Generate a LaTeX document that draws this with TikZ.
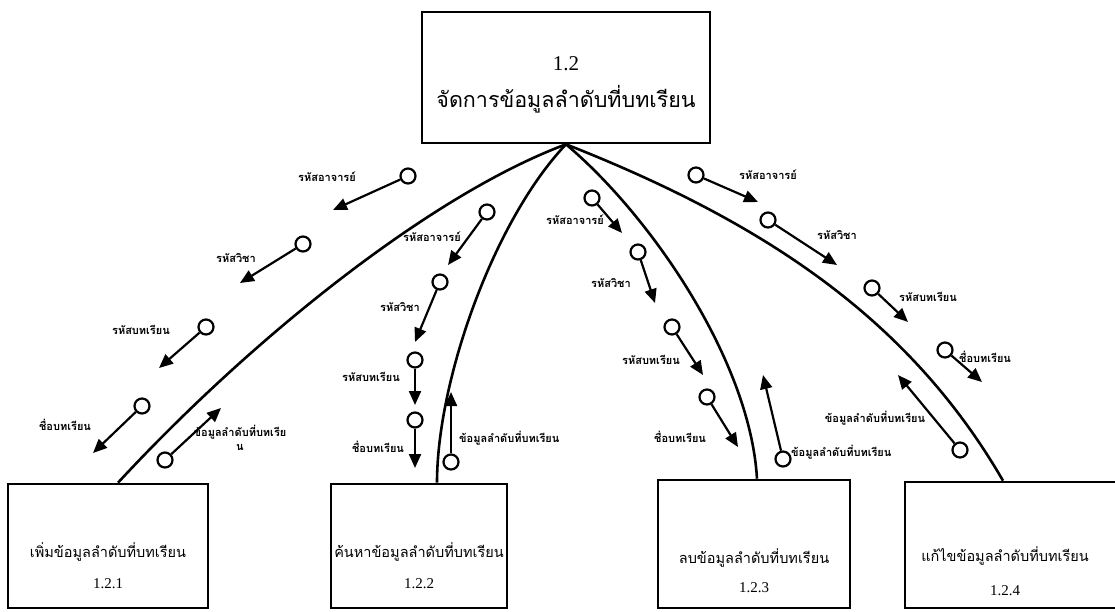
\documentclass[tikz,border=0pt]{standalone}
\usepackage{fontspec}
\setmainfont{Liberation Serif}
\newfontfamily\thai[Script=Thai]{Loma}
\usetikzlibrary{arrows.meta}

\begin{document}
\begin{tikzpicture}[x=1pt, y=-1pt,
    box/.style={draw, rectangle, line width=2.6pt, inner sep=0pt},
    branch/.style={line width=2.6pt},
    couple/.style={circle, draw, line width=2.2pt, minimum size=15pt, inner sep=0pt},
    flow/.style={line width=2.2pt, -{Triangle[length=14pt, width=12pt]}},
    lbl/.style={font=\thai\bfseries\fontsize{11}{12}\selectfont, inner sep=0pt},
    title/.style={font=\thai\fontsize{14.5}{18}\selectfont, inner sep=0pt},
    num/.style={font=\fontsize{15}{17}\selectfont, inner sep=0pt}]
    \useasboundingbox (0,0) rectangle (1115,611);

    % Parent module
    \node[box, minimum width=288pt, minimum height=131pt] (top) at (566,77.5) {};
    \node[num, font=\fontsize{21}{24}\selectfont] at (566,64) {1.2};
    \node[title, font=\thai\fontsize{21.5}{24}\selectfont] at (566,99) {จัดการข้อมูลลำดับที่บทเรียน};

    % Sub modules
    \node[box, minimum width=200pt, minimum height=124pt] (p121) at (108,546) {};
    \node[title] at (108,552) {เพิ่มข้อมูลลำดับที่บทเรียน};
    \node[num] at (108,584) {1.2.1};

    \node[box, minimum width=176pt, minimum height=124pt] (p122) at (419,546) {};
    \node[title] at (419,552) {ค้นหาข้อมูลลำดับที่บทเรียน};
    \node[num] at (419,584) {1.2.2};

    \node[box, minimum width=192pt, minimum height=128pt] (p123) at (754,544) {};
    \node[title] at (754,558) {ลบข้อมูลลำดับที่บทเรียน};
    \node[num] at (754,588) {1.2.3};

    \node[box, minimum width=220pt, minimum height=126pt] (p124) at (1015,545) {};
    \node[title] at (1005,556) {แก้ไขข้อมูลลำดับที่บทเรียน};
    \node[num] at (1005,591) {1.2.4};

    % Calls
    \draw[branch] (top.south) .. controls (430,195) and (250,340) .. ([xshift=10pt]p121.north);
    \draw[branch] (top.south) .. controls (494,220) and (437,380) .. ([xshift=18pt]p122.north);
    \draw[branch] (top.south) .. controls (650,215) and (750,360) .. ([xshift=3pt]p123.north);
    \draw[branch] (top.south) .. controls (766,223) and (910,320) .. ([xshift=-12pt]p124.north);

    % Data couples for 1.2.1
    \node[couple] (a1) at (408,176) {}; \coordinate (a1t) at (333,210);
    \draw[flow] (a1) -- (a1t); \node[lbl] at (327,177) {รหัสอาจารย์};
    \node[couple] (a2) at (303,244) {}; \coordinate (a2t) at (240,283);
    \draw[flow] (a2) -- (a2t); \node[lbl] at (236,258) {รหัสวิชา};
    \node[couple] (a3) at (206,327) {}; \coordinate (a3t) at (159,368);
    \draw[flow] (a3) -- (a3t); \node[lbl] at (141,330) {รหัสบทเรียน};
    \node[couple] (a4) at (142,406) {}; \coordinate (a4t) at (93,453);
    \draw[flow] (a4) -- (a4t); \node[lbl] at (65,425) {ชื่อบทเรียน};
    \node[couple] (a5) at (165,460) {}; \coordinate (a5t) at (221,408);
    \draw[flow] (a5) -- (a5t);
    \node[lbl, align=center] at (240,438) {ข้อมูลลำดับที่บทเรีย\\[2pt]น};

    % Data couples for 1.2.2
    \node[couple] (b1) at (487,212) {}; \coordinate (b1t) at (448,265);
    \draw[flow] (b1) -- (b1t); \node[lbl] at (432,237) {รหัสอาจารย์};
    \node[couple] (b2) at (440,282) {}; \coordinate (b2t) at (415,342);
    \draw[flow] (b2) -- (b2t); \node[lbl] at (400,307) {รหัสวิชา};
    \node[couple] (b3) at (415,360) {}; \coordinate (b3t) at (415,405);
    \draw[flow] (b3) -- (b3t); \node[lbl] at (371,377) {รหัสบทเรียน};
    \node[couple] (b4) at (415,420) {}; \coordinate (b4t) at (415,468);
    \draw[flow] (b4) -- (b4t); \node[lbl] at (378,447) {ชื่อบทเรียน};
    \node[couple] (b5) at (451,462) {}; \coordinate (b5t) at (451,392);
    \draw[flow] (b5) -- (b5t); \node[lbl, anchor=west] at (459,438) {ข้อมูลลำดับที่บทเรียน};

    % Data couples for 1.2.3
    \node[couple] (c1) at (592,198) {}; \coordinate (c1t) at (622,233);
    \draw[flow] (c1) -- (c1t); \node[lbl] at (575,220) {รหัสอาจารย์};
    \node[couple] (c2) at (638,252) {}; \coordinate (c2t) at (655,303);
    \draw[flow] (c2) -- (c2t); \node[lbl] at (611,283) {รหัสวิชา};
    \node[couple] (c3) at (672,327) {}; \coordinate (c3t) at (703,375);
    \draw[flow] (c3) -- (c3t); \node[lbl] at (651,360) {รหัสบทเรียน};
    \node[couple] (c4) at (707,397) {}; \coordinate (c4t) at (738,447);
    \draw[flow] (c4) -- (c4t); \node[lbl] at (680,437) {ชื่อบทเรียน};
    \node[couple] (c5) at (783,459) {}; \coordinate (c5t) at (763,375);
    \draw[flow] (c5) -- (c5t); \node[lbl, anchor=west] at (791,452) {ข้อมูลลำดับที่บทเรียน};

    % Data couples for 1.2.4
    \node[couple] (d1) at (696,175) {}; \coordinate (d1t) at (758,202);
    \draw[flow] (d1) -- (d1t); \node[lbl] at (768,175) {รหัสอาจารย์};
    \node[couple] (d2) at (768,220) {}; \coordinate (d2t) at (837,265);
    \draw[flow] (d2) -- (d2t); \node[lbl] at (837,235) {รหัสวิชา};
    \node[couple] (d3) at (872,288) {}; \coordinate (d3t) at (908,322);
    \draw[flow] (d3) -- (d3t); \node[lbl] at (928,297) {รหัสบทเรียน};
    \node[couple] (d4) at (945,350) {}; \coordinate (d4t) at (982,382);
    \draw[flow] (d4) -- (d4t); \node[lbl] at (985,357) {ชื่อบทเรียน};
    \node[couple] (d5) at (960,450) {}; \coordinate (d5t) at (898,375);
    \draw[flow] (d5) -- (d5t); \node[lbl] at (875,418) {ข้อมูลลำดับที่บทเรียน};
\end{tikzpicture}
\end{document}
